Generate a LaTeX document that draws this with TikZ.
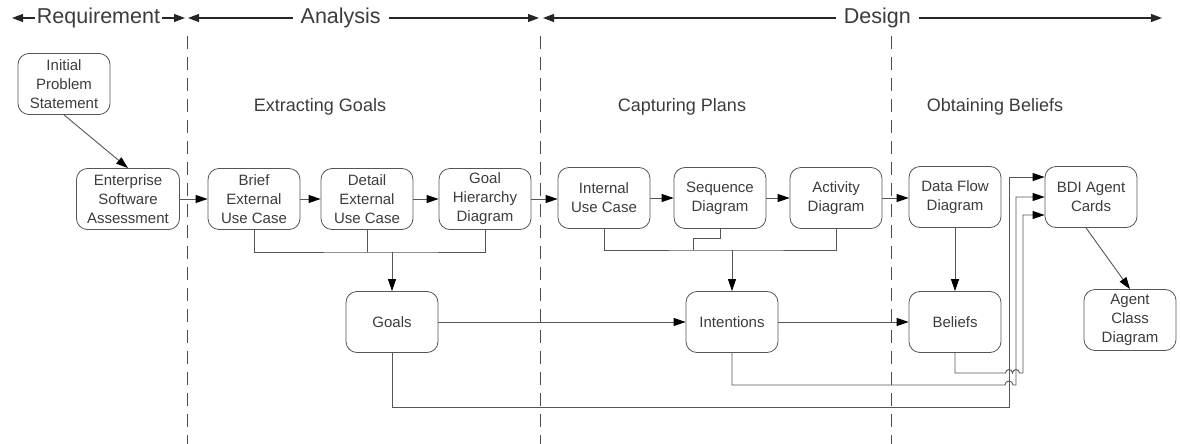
\documentclass[tikz,border=0pt]{standalone}
\usepackage{fontspec}
\setmainfont{Liberation Sans}
\usetikzlibrary{arrows.meta}
\definecolor{boxline}{HTML}{555555}
\definecolor{boxtext}{HTML}{3C3C3C}
\tikzset{
  phase/.style={fill=white, inner ysep=2pt, inner xsep=8pt, text=boxtext, font=\fontsize{21.5}{24}\selectfont},
  phasebar/.style={draw=black!85, line width=1.1pt, {Triangle[length=11pt,width=8pt]}-{Triangle[length=11pt,width=8pt]}},
  task/.style={draw=boxline, line width=0.8pt, rounded corners=11pt, minimum width=92pt, minimum height=61pt,
    inner xsep=8pt, inner ysep=2pt, align=center, text=boxtext, font=\fontsize{15}{19}\selectfont},
  stage/.style={text=boxtext, font=\fontsize{18}{20}\selectfont},
  link/.style={draw=boxline, line width=0.9pt},
  flow/.style={link, -{Triangle[length=12pt,width=8pt,color=black]}},
  border/.style={draw=black!70, line width=1pt, dash pattern=on 13pt off 8pt},
}
\begin{document}
\begin{tikzpicture}[x=1pt, y=-1pt]
\useasboundingbox (0,0) rectangle (1180,444);

% Phases along the top
\coordinate (req0) at (12,18);
\coordinate (req1) at (185,18);
\coordinate (ana0) at (188,18);
\coordinate (ana1) at (539,18);
\coordinate (des0) at (543,18);
\coordinate (des1) at (1162,18);
\draw[phasebar] (req0) -- node[phase, inner xsep=2pt] (req) {Requirement} (req1);
\draw[phasebar] (ana0) -- node[phase, pos=0.435] (ana) {Analysis} (ana1);
\draw[phasebar] (des0) -- node[phase, pos=0.54] (des) {Design} (des1);

% Phase borders
\draw[border] (187,36) -- (187,444);
\draw[border] (540,36) -- (540,444);
\draw[border] (891,36) -- (891,444);

% Stage titles
\node[stage] (xgoal) at (320,107) {Extracting Goals};
\node[stage] (cplan) at (682,107) {Capturing Plans};
\node[stage] (obel) at (995,107) {Obtaining Beliefs};

% Artefacts
\node[task] (init) at (64,84) {Initial\\Problem\\Statement};
\node[task, minimum width=103pt] (esa) at (128,199) {Enterprise\\Software\\Assessment};
\node[task] (beuc) at (254,199) {Brief\\External\\Use Case};
\node[task] (deuc) at (367,199) {Detail\\External\\Use Case};
\node[task] (ghd) at (485,199) {Goal\\Hierarchy\\Diagram};
\node[task] (iuc) at (604,198) {Internal\\Use Case};
\node[task] (seq) at (720,198) {Sequence\\Diagram};
\node[task] (act) at (836,198) {Activity\\Diagram};
\node[task] (dfd) at (955,197) {Data Flow\\Diagram};
\node[task] (bdi) at (1091,197) {BDI Agent\\Cards};
\node[task] (acd) at (1130,320) {Agent\\Class\\Diagram};
\node[task] (goals) at (392,322) {Goals};
\node[task] (intent) at (732,322) {Intentions};
\node[task] (beliefs) at (955,322) {Beliefs};

% Main flow
\draw[flow] (init.south) -- (esa.north);
\draw[flow] (esa) -- (beuc);
\draw[flow] (beuc) -- (deuc);
\draw[flow] (deuc) -- (ghd);
\draw[flow] (ghd.east) -- (iuc.west |- ghd.east);
\draw[flow] (iuc) -- (seq);
\draw[flow] (seq) -- (act);
\draw[flow] (act.east) -- (dfd.west |- act.east);
\draw[flow] (dfd) -- (beliefs);
\draw[flow] (goals) -- (intent);
\draw[flow] (intent) -- (beliefs);
\draw[flow] ([xshift=-5pt]bdi.south) -- (acd.north);

% Gathering into goals and intentions
\coordinate (gbus) at (0,252);
\coordinate (cbus) at (0,250);
\draw[link] (beuc.south) |- (goals.north |- gbus) -| (ghd.south);
\draw[link] (deuc.south) -- (deuc.south |- gbus);
\draw[flow] (goals.north |- gbus) -- (goals.north);
\draw[link] (iuc.south) |- (intent.north |- cbus) -| (act.south);
\draw[link] (seq.south) -- ++(0,10) -| ([xshift=-27pt]seq.south |- cbus);
\draw[flow] (intent.north |- cbus) -- (intent.north);

% Feeding the agent cards
\draw[flow] (goals.south) |- (1009,407) |- ([yshift=20pt]bdi.west);
\draw[flow] (intent.south) |- (1005,385) arc[start angle=180, end angle=360, radius=4] -- (1016,385) |- (bdi.west);
\draw[flow] (beliefs.south) |- (1005.5,373) arc[start angle=180, end angle=360, radius=3.5]
  arc[start angle=180, end angle=360, radius=3.5] -- (1023,373) |- ([yshift=-18pt]bdi.west);
\end{tikzpicture}
\end{document}
